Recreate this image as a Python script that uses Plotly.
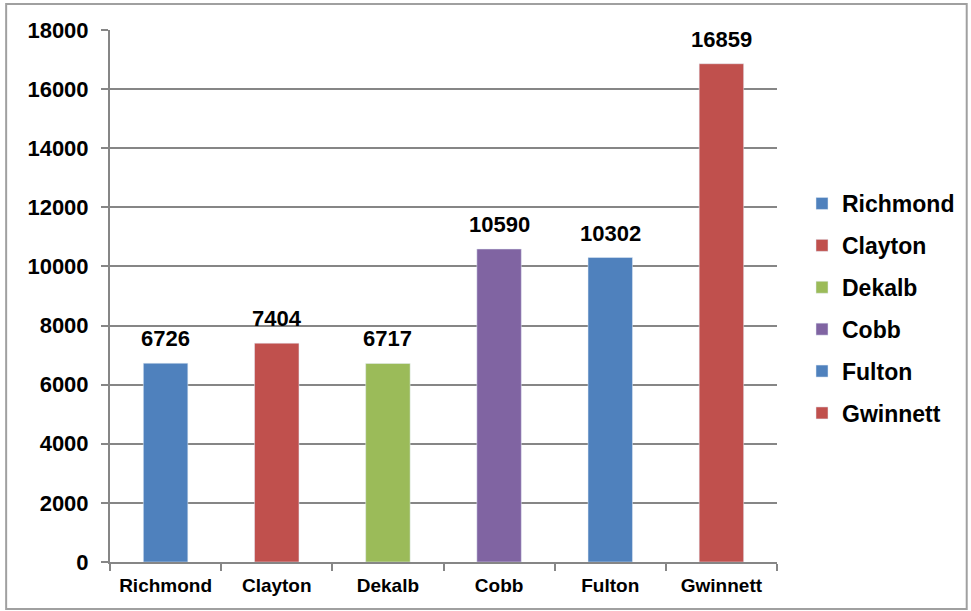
import plotly.graph_objects as go

categories = ["Richmond", "Clayton", "Dekalb", "Cobb", "Fulton", "Gwinnett"]
values = [6726, 7404, 6717, 10590, 10302, 16859]
colors = ["#4F81BD", "#C0504D", "#9BBB59", "#8064A2", "#4F81BD", "#C0504D"]
y_ticks = [0, 2000, 4000, 6000, 8000, 10000, 12000, 14000, 16000, 18000]

L, R, T, B = 110, 193, 30, 49
W, H = 971, 611
pw, ph = W - L - R, H - T - B

fig = go.Figure()
for i, (c, v, col) in enumerate(zip(categories, values, colors)):
    fig.add_trace(go.Bar(
        x=[c], y=[v], name=c, marker_color=col, width=0.4,
        legendgroup=f"g{i}",
    ))
    fig.add_annotation(
        x=c, y=v, text=f"<b>{v}</b>", showarrow=False,
        yanchor="bottom", yshift=10,
        font=dict(family="Arial", size=22, color="black"),
    )

fig.update_layout(
    width=W, height=H,
    margin=dict(l=L, r=R, t=T, b=B),
    paper_bgcolor="white", plot_bgcolor="white",
    barmode="overlay",
    font=dict(family="Arial", color="black"),
    showlegend=True,
    legend=dict(
        x=(802 - L) / pw, y=(562 - 182) / ph, xanchor="left", yanchor="top",
        font=dict(family="Arial", size=23, color="black", weight="bold"),
        tracegroupgap=9, traceorder="grouped",
        bgcolor="rgba(0,0,0,0)",
    ),
    xaxis=dict(
        categoryorder="array", categoryarray=categories,
        showline=True, linecolor="#868686", linewidth=2,
        ticks="outside", ticklen=7, tickcolor="#868686", tickwidth=2,
        tickson="boundaries", automargin=False, ticklabelstandoff=5,
        tickfont=dict(family="Arial", size=19, color="black", weight="bold"),
        showgrid=False,
    ),
    yaxis=dict(
        range=[0, 18000], tickvals=y_ticks, tickformat="d",
        showline=True, linecolor="#868686", linewidth=2,
        ticks="outside", ticklen=7, tickcolor="#868686", tickwidth=2,
        showgrid=True, gridcolor="#868686", gridwidth=2,
        zeroline=False, automargin=False, ticklabelstandoff=8,
        tickfont=dict(family="Arial", size=22, color="black", weight="bold"),
    ),
    shapes=[dict(
        type="rect", xref="paper", yref="paper",
        x0=(6 - L) / pw, x1=(968 - L) / pw,
        y0=(562 - 609) / ph, y1=(562 - 4) / ph,
        line=dict(color="#A0A0A0", width=2), fillcolor="rgba(0,0,0,0)",
        layer="below",
    )],
)

fig.write_html(
    "out.html",
    config={"displayModeBar": False},
    post_script="document.body.style.margin='0';document.body.style.overflow='hidden';",
)
